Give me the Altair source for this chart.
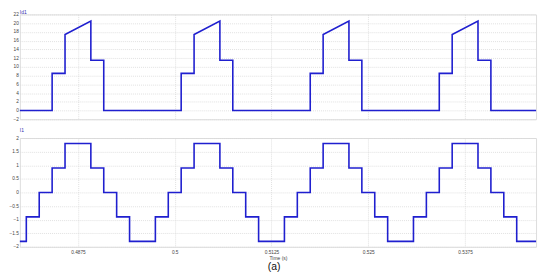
import altair as alt
import pandas as pd

# ---- data ----
top_t = [0.48, 0.484167, 0.484167, 0.485833, 0.485833, 0.489167, 0.489167, 0.490833, 0.490833,
         0.500833, 0.500833, 0.5025, 0.5025, 0.505833, 0.505833, 0.5075, 0.5075,
         0.5175, 0.5175, 0.519167, 0.519167, 0.5225, 0.5225, 0.524167, 0.524167,
         0.534167, 0.534167, 0.535833, 0.535833, 0.539167, 0.539167, 0.540833, 0.540833,
         0.546667]
top_v = [0, 0, 8.5, 8.5, 17.4, 20.5, 11.5, 11.5, 0,
         0, 8.5, 8.5, 17.4, 20.5, 11.5, 11.5, 0,
         0, 8.5, 8.5, 17.4, 20.5, 11.5, 11.5, 0,
         0, 8.5, 8.5, 17.4, 20.5, 11.5, 11.5, 0,
         0]

bot_t = [0.48, 0.480833, 0.4825, 0.484167, 0.485833, 0.489167, 0.490833, 0.4925, 0.494167,
         0.4975, 0.499167, 0.500833, 0.5025, 0.505833, 0.5075, 0.509167, 0.510833,
         0.514167, 0.515833, 0.5175, 0.519167, 0.5225, 0.524167, 0.525833, 0.5275,
         0.530833, 0.5325, 0.534167, 0.535833, 0.539167, 0.540833, 0.5425, 0.544167,
         0.546667]
bot_v = [-1.8, -0.9, 0, 0.9, 1.8, 0.9, 0, -0.9, -1.8,
         -0.9, 0, 0.9, 1.8, 0.9, 0, -0.9, -1.8,
         -0.9, 0, 0.9, 1.8, 0.9, 0, -0.9, -1.8,
         -0.9, 0, 0.9, 1.8, 0.9, 0, -0.9, -1.8,
         -1.8]

x_ticks = [0.4875, 0.5, 0.5125, 0.525, 0.5375]
top_y_ticks = [-2, 0, 2, 4, 6, 8, 10, 12, 14, 16, 18, 20, 22]
bot_y_ticks = [-2, -1.5, -1, -0.5, 0, 0.5, 1, 1.5, 2]
x_domain = [0.48, 0.546667]

top_df = pd.DataFrame({"t": top_t, "v": top_v, "i": list(range(len(top_t)))})
bot_df = pd.DataFrame({"t": bot_t, "v": bot_v})

LINE = "#1f1fcf"
GRID = "#d9d9d9"
LBL = "#444444"
FONT = "Liberation Sans"

grid_kw = dict(grid=True, gridColor=GRID, gridDash=[1, 1], gridWidth=0.8,
               domain=False, ticks=False)

y_kw = dict(labelFontSize=4.8, labelFont=FONT, labelColor=LBL, labelPadding=1.5,
            minExtent=8, maxExtent=10, title=None, format="~g")

top = alt.Chart(top_df).mark_line(color=LINE, strokeWidth=1.6).encode(
    x=alt.X("t:Q", scale=alt.Scale(domain=x_domain, nice=False, zero=False),
            axis=alt.Axis(values=x_ticks, labels=False, title=None,
                          minExtent=0, maxExtent=0, **grid_kw)),
    y=alt.Y("v:Q", scale=alt.Scale(domain=[-2, 22], nice=False),
            axis=alt.Axis(values=top_y_ticks, **y_kw, **grid_kw)),
    order="i:Q",
).properties(
    width=522, height=106,
    title=alt.TitleParams("Id1", anchor="start", frame="group", fontSize=5,
                          font=FONT, color="#3030b0", fontWeight="normal", offset=-4),
)

bottom = alt.Chart(bot_df).mark_line(color=LINE, strokeWidth=1.6,
                                     interpolate="step-after").encode(
    x=alt.X("t:Q", scale=alt.Scale(domain=x_domain, nice=False, zero=False),
            axis=alt.Axis(values=x_ticks, title="Time (s)", titleFontSize=5,
                          titleFont=FONT, titleColor=LBL, titleFontWeight="normal",
                          titlePadding=1, labelFontSize=4.8, labelFont=FONT,
                          labelColor=LBL, labelPadding=3, format=".4~f", **grid_kw)),
    y=alt.Y("v:Q", scale=alt.Scale(domain=[-2, 2], nice=False),
            axis=alt.Axis(values=bot_y_ticks, **y_kw, **grid_kw)),
).properties(
    width=522, height=110,
    title=alt.TitleParams("I1", anchor="start", frame="group", fontSize=5,
                          font=FONT, color="#3030b0", fontWeight="normal", offset=2),
)

chart = alt.vconcat(top, bottom, spacing=5).properties(
    padding={"left": 0, "top": 0, "right": 2, "bottom": 0},
    title=alt.TitleParams("(a)", orient="bottom", anchor="middle", fontSize=10.5,
                          font=FONT, color="#111111", fontWeight="normal", offset=1),
).configure_view(stroke="#a8a8a8", strokeWidth=1.3).configure(background="white")

chart.save("out.html", embed_options={"renderer": "svg", "actions": False})
